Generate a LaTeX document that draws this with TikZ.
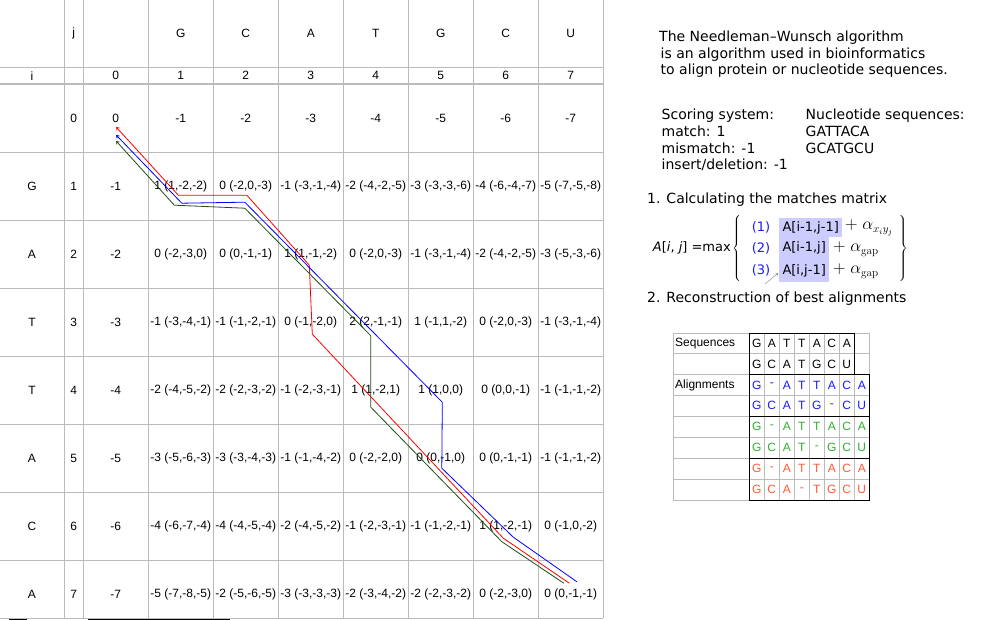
\documentclass[tikz,border=0pt]{standalone}
\usepackage{fontspec}
\newfontfamily\gridfont{Liberation Sans}
\newfontfamily\notefont{DejaVu Sans}
\usetikzlibrary{arrows.meta}
\definecolor{gridline}{HTML}{BBBBBB}
\definecolor{boxfill}{HTML}{CCCCFF}
\definecolor{alblue}{HTML}{1A1AFF}
\definecolor{algreen}{HTML}{2DB22D}
\definecolor{alred}{HTML}{FF5A36}
\definecolor{pathgreen}{HTML}{1F4F14}

\begin{document}
\begin{tikzpicture}[x=1pt, y=-1pt,
    cell/.style={font=\gridfont\fontsize{12}{14}\selectfont, inner sep=0pt},
    note/.style={font=\notefont\fontsize{14}{16.8}\selectfont, inner sep=0pt, anchor=west, align=left},
    formula/.style={font=\notefont\fontsize{13}{15}\selectfont, inner sep=0pt},
    termbox/.style={formula, fill=boxfill, anchor=north west},
    mathterm/.style={font=\fontsize{16}{18}\selectfont, inner sep=0pt, anchor=west},
    traceback/.style={line width=0.8pt, {To[length=3pt,width=4pt]}-}]
    \useasboundingbox (0,0) rectangle (1000,620);
    \fill [white] (0,0) rectangle (1000,620);

    % score grid
    \foreach \x in {64.3,83.3,148.3,213.3,278.3,343.3,408.3,473.3,538.3,603.3}
      \draw [gridline, line width=1.2pt] (\x,0) -- (\x,618.3);
    \foreach \y in {67.3,84,152.3,220.3,288.3,356.3,424.3,492.3,560.3,618.3}
      \draw [gridline, line width=1.2pt] (0,\y) -- (603.3,\y);
    \draw [line width=1pt] (9,619.5) -- (27,619.5);
    \draw [line width=1pt] (88,619.5) -- (230,619.5);

    \node [cell] (hj) at (73.8,33.5) {j};
    \node [cell] (hi) at (32,75.7) {i};
    \foreach \s [count=\j] in {G,C,A,T,G,C,U}
      \node [cell] (h-\j) at (115.8+65*\j,33.5) {\s};
    \foreach \j in {0,...,7}
      \node [cell] (n-\j) at (115.8+65*\j,75.7) {\j};
    \foreach \i in {0,...,7}
      \node [cell] (r-\i) at (73.8,118.2+68*\i) {\i};
    \foreach \s [count=\i] in {G,A,T,T,A,C,A}
      \node [cell] (l-\i) at (32,118.2+68*\i) {\s};

    \foreach \v [count=\j from 0] in {0,-1,-2,-3,-4,-5,-6,-7}
      \node [cell] (c-0-\j) at (115.8+65*\j,118.2) {\v};
    \foreach \v [count=\j from 0] in {{-1},{1 (1,-2,-2)},{0 (-2,0,-3)},{-1 (-3,-1,-4)},{-2 (-4,-2,-5)},{-3 (-3,-3,-6)},{-4 (-6,-4,-7)},{-5 (-7,-5,-8)}}
      \node [cell] (c-1-\j) at (115.8+65*\j,186.2) {\v};
    \foreach \v [count=\j from 0] in {{-2},{0 (-2,-3,0)},{0 (0,-1,-1)},{1 (1,-1,-2)},{0 (-2,0,-3)},{-1 (-3,-1,-4)},{-2 (-4,-2,-5)},{-3 (-5,-3,-6)}}
      \node [cell] (c-2-\j) at (115.8+65*\j,254.2) {\v};
    \foreach \v [count=\j from 0] in {{-3},{-1 (-3,-4,-1)},{-1 (-1,-2,-1)},{0 (-1,-2,0)},{2 (2,-1,-1)},{1 (-1,1,-2)},{0 (-2,0,-3)},{-1 (-3,-1,-4)}}
      \node [cell] (c-3-\j) at (115.8+65*\j,322.2) {\v};
    \foreach \v [count=\j from 0] in {{-4},{-2 (-4,-5,-2)},{-2 (-2,-3,-2)},{-1 (-2,-3,-1)},{1 (1,-2,1)},{1 (1,0,0)},{0 (0,0,-1)},{-1 (-1,-1,-2)}}
      \node [cell] (c-4-\j) at (115.8+65*\j,390.2) {\v};
    \foreach \v [count=\j from 0] in {{-5},{-3 (-5,-6,-3)},{-3 (-3,-4,-3)},{-1 (-1,-4,-2)},{0 (-2,-2,0)},{0 (0,-1,0)},{0 (0,-1,-1)},{-1 (-1,-1,-2)}}
      \node [cell] (c-5-\j) at (115.8+65*\j,458.2) {\v};
    \foreach \v [count=\j from 0] in {{-6},{-4 (-6,-7,-4)},{-4 (-4,-5,-4)},{-2 (-4,-5,-2)},{-1 (-2,-3,-1)},{-1 (-1,-2,-1)},{1 (1,-2,-1)},{0 (-1,0,-2)}}
      \node [cell] (c-6-\j) at (115.8+65*\j,526.2) {\v};
    \foreach \v [count=\j from 0] in {{-7},{-5 (-7,-8,-5)},{-2 (-5,-6,-5)},{-3 (-3,-3,-3)},{-2 (-3,-4,-2)},{-2 (-2,-3,-2)},{0 (-2,-3,0)},{0 (0,-1,-1)}}
      \node [cell] (c-7-\j) at (115.8+65*\j,594.2) {\v};

    % traceback paths
    \draw [traceback, red] ([shift={(0.5,9)}]c-0-0.center) -- ([shift={(-2.5,9)}]c-1-1.center)
      -- ([shift={(1,9)}]c-1-2.center) -- ([shift={(-1.5,11)}]c-2-3.center)
      -- ([shift={(1.5,12)}]c-3-3.center) -- ([shift={(-2.5,12)}]c-6-6.center)
      -- ([shift={(-1.5,-11)}]c-7-7.center);
    \draw [traceback, blue] ([shift={(0.5,17)}]c-0-0.center) -- ([shift={(1,17)}]c-1-1.center)
      -- ([shift={(-1,16)}]c-1-2.center) -- ([shift={(1.5,12)}]c-4-5.center)
      -- ([shift={(1,10)}]c-5-5.center) -- ([shift={(7.5,11)}]c-6-6.center)
      -- ([shift={(6,-12.5)}]c-7-7.center);
    \draw [traceback, pathgreen] ([shift={(0.5,23)}]c-0-0.center) -- ([shift={(-6.5,19)}]c-1-1.center)
      -- ([shift={(-1,22)}]c-1-2.center) -- ([shift={(-5,13.5)}]c-3-4.center)
      -- ([shift={(-5,17)}]c-4-4.center) -- ([shift={(-4,15.5)}]c-6-6.center)
      -- ([shift={(-7,-11)}]c-7-7.center);

    % notes
    \node [note] (intro) at (659,54.3) {The Needleman–Wunsch algorithm\\\hspace{1.5pt}is an algorithm used in bioinformatics\\\hspace{1.5pt}to align protein or nucleotide sequences.};
    \node [note] (scoring) at (661.5,140) {Scoring system:\\match: 1\\mismatch: -1\\insert/deletion: -1};
    \node [note] (seqs) at (805.5,131.5) {Nucleotide sequences:\\GATTACA\\GCATGCU};
    \node [note] (step1) at (647,200) {1. Calculating the matches matrix};
    \node [note] (step2) at (647,299) {2. Reconstruction of best alignments};

    % recurrence
    \node [formula, anchor=east] (lhs) at (731,248) {\textit{A}[\textit{i}, \textit{j}] =max};
    \node [formula, anchor=west] (lbrace) at (732,249) {$\left\{\rule[-31pt]{0pt}{62pt}\right.$};
    \node [formula, text=alblue] (n1) at (761,227) {(1)};
    \node [formula, text=alblue] (n2) at (761,248) {(2)};
    \node [formula, text=alblue] (n3) at (761,270) {(3)};
    \node [termbox, minimum width=63pt, minimum height=19pt] (b1) at (779,218) {A[i-1,j-1]};
    \node [termbox, minimum width=50pt, minimum height=22pt] (b2) at (779,237) {A[i-1,j]};
    \node [termbox, minimum width=50pt, minimum height=23pt] (b3) at (779,259) {A[i,j-1]};
    \node [mathterm] (p1) at (845,228) {$+\;\alpha_{x_iy_j}$};
    \node [mathterm] (p2) at (833,249) {$+\;\alpha_{\mathrm{gap}}$};
    \node [mathterm] (p3) at (833,271) {$+\;\alpha_{\mathrm{gap}}$};
    \node [formula, anchor=east] (rbrace) at (908,249) {$\left.\rule[-31pt]{0pt}{62pt}\right\}$};
    \coordinate (hint) at (765,284);
    \draw [gray, -{To[length=2pt,width=3pt]}] (hint) -- ([shift={(-1,2.5)}]b3.west);

    % alignment table
    \foreach \k in {0,...,8}
      \draw [gridline] (673.3,332.7+20.9*\k) -- (869.3,332.7+20.9*\k);
    \foreach \x in {673.3,749.3,764.3,779.3,794.3,809.3,824.3,839.3,854.3,869.3}
      \draw [gridline] (\x,332.7) -- (\x,499.9);
    \draw (749.3,332.7) rectangle (854.3,374.5);
    \draw (749.3,374.5) rectangle (869.3,416.3);
    \draw (749.3,416.3) rectangle (869.3,458.1);
    \draw (749.3,458.1) rectangle (869.3,499.9);
    \node [cell, anchor=west] (seqlabel) at (675,343.1) {Sequences};
    \node [cell, anchor=west] (alilabel) at (675,385) {Alignments};
    \foreach \s [count=\k from 0] in {G,A,T,T,A,C,A}
      \node [cell] (q1-\k) at (756.8+15*\k,343.1) {\s};
    \foreach \s [count=\k from 0] in {G,C,A,T,G,C,U}
      \node [cell] (q2-\k) at (756.8+15*\k,364) {\s};
    \foreach \s [count=\k from 0] in {G,-,A,T,T,A,C,A}
      \node [cell, text=alblue] (a1-\k) at (756.8+15*\k,384.9) {\s};
    \foreach \s [count=\k from 0] in {G,C,A,T,G,-,C,U}
      \node [cell, text=alblue] (a2-\k) at (756.8+15*\k,405.8) {\s};
    \foreach \s [count=\k from 0] in {G,-,A,T,T,A,C,A}
      \node [cell, text=algreen] (a3-\k) at (756.8+15*\k,426.7) {\s};
    \foreach \s [count=\k from 0] in {G,C,A,T,-,G,C,U}
      \node [cell, text=algreen] (a4-\k) at (756.8+15*\k,447.6) {\s};
    \foreach \s [count=\k from 0] in {G,-,A,T,T,A,C,A}
      \node [cell, text=alred] (a5-\k) at (756.8+15*\k,468.5) {\s};
    \foreach \s [count=\k from 0] in {G,C,A,-,T,G,C,U}
      \node [cell, text=alred] (a6-\k) at (756.8+15*\k,489.4) {\s};
  \end{tikzpicture}
\end{document}
